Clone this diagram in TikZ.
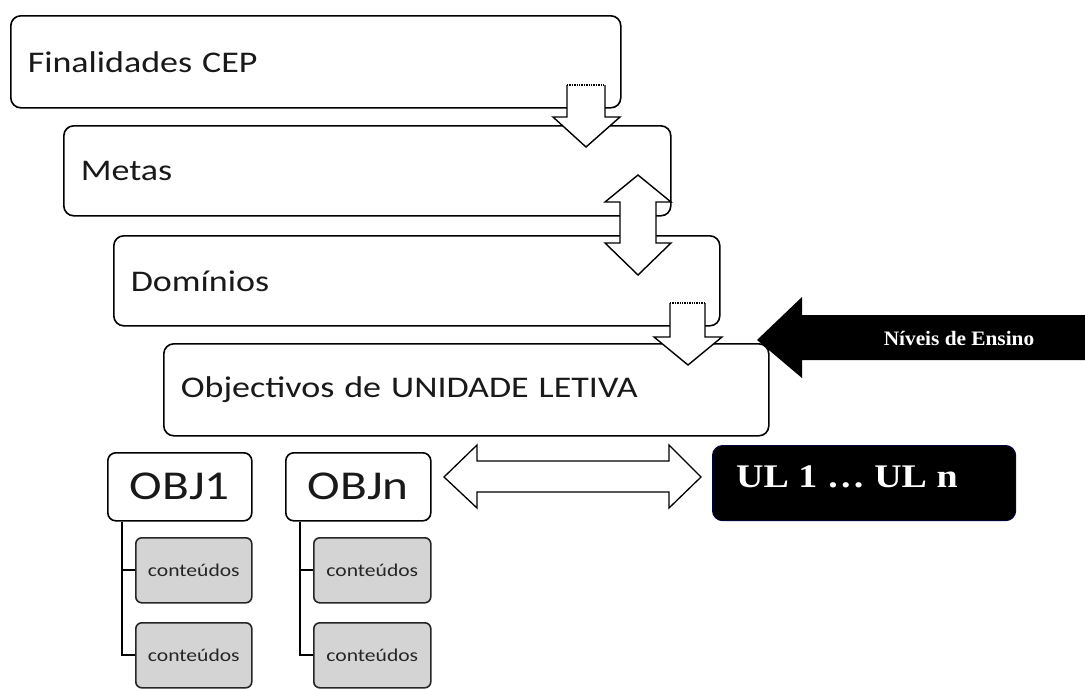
\documentclass[tikz,border=0pt]{standalone}
\usepackage{fontspec}
\newfontfamily\calibrifont[FakeStretch=1.2]{Carlito}
\newfontfamily\timesfont[FakeStretch=1.04]{Liberation Serif}
\newfontfamily\timeswide[FakeStretch=1.15]{Liberation Serif}
\begin{document}
\begin{tikzpicture}[x=1pt,y=-1pt,
  bigbox/.style={draw=black, line width=1.6pt, rounded corners=10pt, fill=white,
    align=left, inner xsep=17pt, inner ysep=0pt, anchor=north west,
    font=\calibrifont\fontsize{30}{33}\selectfont, text=black!90},
  objbox/.style={draw=black, line width=1.6pt, rounded corners=8pt, fill=white,
    minimum width=144pt, minimum height=68pt, inner sep=0pt, anchor=north west,
    font=\calibrifont\fontsize{41}{45}\selectfont, text=black!90},
  contbox/.style={draw=black!85, line width=1.6pt, rounded corners=6pt, fill=black!17,
    minimum width=116pt, minimum height=65pt, inner sep=0pt, anchor=north west,
    font=\calibrifont\fontsize{18}{20}\selectfont, text=black!85},
  blockarrow/.style={fill=white, draw=black, line width=1.4pt, line join=miter},
  treeline/.style={draw=black, line width=1.8pt},
]
\useasboundingbox (0,0) rectangle (1085,689);
\fill[white] (0,0) rectangle (1085,689);

% main boxes
\node[bigbox, text width=576pt, minimum height=92pt] (b1) at (10,15) {Finalidades CEP};
\node[bigbox, text width=573pt, minimum height=90pt] (b2) at (63,125) {Metas};
\node[bigbox, text width=572pt, minimum height=90pt] (b3) at (113,235) {Domínios};
\node[bigbox, text width=571pt, minimum height=92pt] (b4) at (163,343) {Objectivos de UNIDADE LETIVA};

% down arrow 1
\fill[white] (567,85) -- (605,85) -- (605,117) -- (620,117) -- (586,147) -- (553,117) -- (567,117) -- cycle;
\draw[blockarrow, fill=none] (605,85) -- (605,117) -- (620,117) -- (586,147) -- (553,117) -- (567,117) -- (567,85);
\draw[line width=1.4pt, densely dotted] (567,85) -- (605,85);

% double vertical arrow 2
\draw[blockarrow] (638,175) -- (671,202) -- (656,202) -- (656,243) -- (671,243) -- (638,275)
  -- (605,243) -- (620,243) -- (620,202) -- (605,202) -- cycle;

% down arrow 3
\fill[white] (670,303) -- (705,303) -- (705,337) -- (722,337) -- (688,365) -- (654,337) -- (670,337) -- cycle;
\draw[blockarrow, fill=none] (705,303) -- (705,337) -- (722,337) -- (688,365) -- (654,337) -- (670,337) -- (670,303);
\draw[line width=1.4pt, densely dotted] (670,303) -- (705,303);

% black arrow Niveis de Ensino
\fill[black] (757,340) -- (802,297) -- (802,315) -- (1086,315) -- (1086,360) -- (802,360) -- (802,378) -- cycle;
\node[text=white, font=\timesfont\bfseries\fontsize{20.5}{22}\selectfont, inner sep=0pt] (niv) at (959,338) {Níveis de Ensino};

% objective boxes
\node[objbox] (o1) at (107,452) {OBJ1};
\node[objbox, minimum width=145pt] (on) at (285,452) {OBJn};

% content boxes
\node[contbox] (c11) at (135,537) {conteúdos};
\node[contbox] (c12) at (135,622) {conteúdos};
\node[contbox, minimum width=117pt] (cn1) at (313,537) {conteúdos};
\node[contbox, minimum width=117pt] (cn2) at (313,622) {conteúdos};

% tree lines
\coordinate (t1) at ([xshift=15pt]o1.south west);
\coordinate (tn) at ([xshift=15pt]on.south west);
\draw[treeline] (t1) |- (c11.west);
\draw[treeline] (t1) |- (c12.west);
\draw[treeline] (tn) |- (cn1.west);
\draw[treeline] (tn) |- (cn2.west);

% UL box
\node[draw=black!80!blue, line width=1.2pt, fill=black, rounded corners=10pt,
  minimum width=303pt, minimum height=75pt, anchor=north west, inner sep=0pt] (ul) at (712,445) {};
\node[text=white, font=\timeswide\bfseries\fontsize{33}{36}\selectfont, inner sep=0pt, anchor=west] (ultxt) at (736,477) {UL 1 … UL n};

% horizontal double arrow
\draw[blockarrow, line width=1.3pt] (444,477) -- (477,445) -- (477,461) -- (669,461) -- (669,445) -- (701,477)
  -- (669,508) -- (669,492) -- (477,492) -- (477,508) -- cycle;
\end{tikzpicture}
\end{document}
